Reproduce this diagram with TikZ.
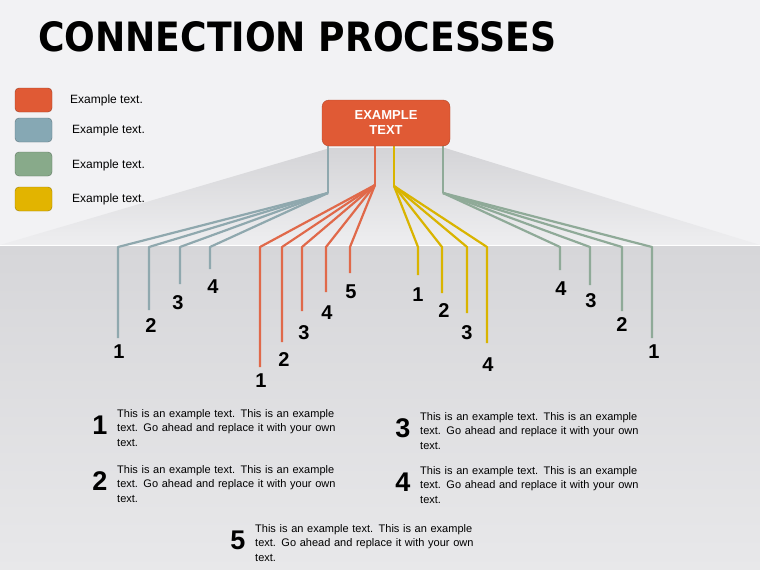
\documentclass[tikz,border=0pt]{standalone}
\usepackage{fontspec}
\setmainfont{Liberation Sans}
\newfontfamily\titlefont{DejaVu Sans}
\begin{document}
\begin{tikzpicture}[x=1pt,y=-1pt,
 ln/.style={line width=2.2pt,line join=round},
 num/.style={font=\bfseries\fontsize{20}{20}\selectfont,inner sep=0pt},
 big/.style={font=\bfseries\fontsize{27}{27}\selectfont,inner sep=0pt},
 txt/.style={font=\fontsize{11}{14.5}\selectfont,align=left,anchor=north west,inner sep=0pt,text width=240pt},
 leg/.style={rounded corners=4pt,minimum width=37pt,minimum height=24pt,draw=#1!70!black,fill=#1},
 ltx/.style={font=\fontsize{12}{12}\selectfont,anchor=west,inner sep=0pt}]
\definecolor{cb}{HTML}{8FA8AE}\definecolor{cr}{HTML}{E0694A}
\definecolor{cy}{HTML}{D9B400}\definecolor{cg}{HTML}{8FAA98}
\definecolor{lr}{HTML}{E05A35}\definecolor{lb}{HTML}{86A8B4}
\definecolor{lg}{HTML}{88AA8A}\definecolor{ly}{HTML}{E2B400}
\useasboundingbox (0,0) rectangle (760,570);
\fill[color={rgb,255:red,242;green,242;blue,244}] (0,0) rectangle (760,570);
\shade[top color={rgb,255:red,214;green,214;blue,217},bottom color={rgb,255:red,232;green,232;blue,234}] (0,245) rectangle (760,570);
\shade[top color={rgb,255:red,212;green,212;blue,215},bottom color={rgb,255:red,238;green,238;blue,240}] (0,245) -- (330,148) -- (445,148) -- (760,245) -- cycle;
\draw[white,line width=1pt] (0,245) -- (760,245);
\node[anchor=west,inner sep=0pt] (title) at (38,37) {\resizebox{518pt}{30pt}{\titlefont\bfseries CONNECTION PROCESSES}};
\node[leg=lr] (l1) at (33.5,100) {}; \node[ltx] (t1) at (70,100) {Example text.};
\node[leg=lb] (l2) at (33.5,130) {}; \node[ltx] (t2) at (72,130) {Example text.};
\node[leg=lg] (l3) at (33.5,164) {}; \node[ltx] (t3) at (72,165) {Example text.};
\node[leg=ly] (l4) at (33.5,199) {}; \node[ltx] (t4) at (72,199) {Example text.};
\coordinate (bt) at (328,193); \coordinate (rt) at (375,185);
\coordinate (yt) at (394,186); \coordinate (gt) at (443,193);
\draw[ln,cb] (328,146) -- (bt);
\draw[ln,cr] (375,146) -- (rt);
\draw[ln,cy] (394,146) -- (yt);
\draw[ln,cg] (443,146) -- (gt);
\foreach \x/\e in {118/338,149/310,180/284,210/269} \draw[ln,cb] (bt) -- (\x,247) -- (\x,\e);
\foreach \x/\e in {260/367,282/342,302/311,326/292,350/273} \draw[ln,cr] (rt) -- (\x,247) -- (\x,\e);
\foreach \x/\e in {418/275,442/293,467/313,487/343} \draw[ln,cy] (yt) -- (\x,247) -- (\x,\e);
\foreach \x/\e in {560/270,590/285,622/311,652/338} \draw[ln,cg] (gt) -- (\x,247) -- (\x,\e);
\node[rounded corners=7pt,fill=lr,draw=lr!80!black,minimum width=128pt,minimum height=46pt,align=center,text=white,font=\bfseries\fontsize{13}{15}\selectfont] (box) at (386,123) {EXAMPLE\\TEXT};
\foreach \x/\y/\t in {119/352/1,151/326/2,178/303/3,213/287/4,261/381/1,284/360/2,304/333/3,327/313/4,351/292/5,418/295/1,444/311/2,467/333/3,488/365/4,561/289/4,591/301/3,622/325/2,654/352/1}
 \node[num] at (\x,\y) {\t};
\foreach \x/\y/\t in {100/425/1,100/481/2,403/428/3,403/482/4,238/540/5}{
 \node[big] at (\x,\y) {\t};
 \node[txt] at (\x+17,\y-16) {This is an example text. This is an example text. Go ahead and replace it with your own text.};}
\end{tikzpicture}
\end{document}
